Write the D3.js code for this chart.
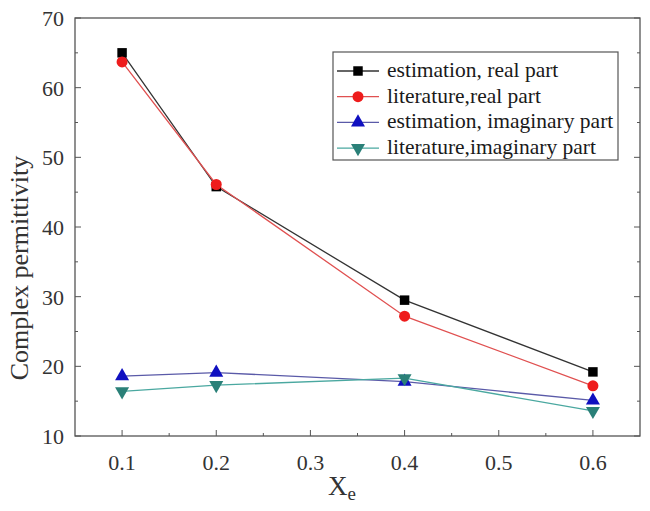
<!DOCTYPE html>
<html><head><meta charset="utf-8">
<script src="https://cdn.jsdelivr.net/npm/d3@7"></script>
<style>body{margin:0;background:#fff}svg{display:block}
text{font-family:"Liberation Serif","DejaVu Serif",Times,serif}</style>
</head><body>
<svg id="c" width="650" height="511"></svg>
<script>
const xValues = [0.1, 0.2, 0.4, 0.6];
const estReal = [65.0, 45.8, 29.5, 19.2];
const litReal = [63.7, 46.1, 27.2, 17.2];
const estImag = [18.6, 19.1, 17.8, 15.1];
const litImag = [16.4, 17.3, 18.3, 13.6];
const seriesNames = ["estimation, real part", "literature,real part", "estimation, imaginary part", "literature,imaginary part"];
const xTicks = [0.1, 0.2, 0.3, 0.4, 0.5, 0.6];
const yTicks = [10, 20, 30, 40, 50, 60, 70];

const series = [
  {name: seriesNames[0], values: estReal, line: "#333", fill: "#000", sym: d3.symbolSquare, size: 90, rot: 0},
  {name: seriesNames[1], values: litReal, line: "#e05050", fill: "#ee1c1c", sym: d3.symbolCircle, size: 95, rot: 0},
  {name: seriesNames[2], values: estImag, line: "#5a5aa8", fill: "#1010c0", sym: d3.symbolTriangle, size: 85, rot: 0},
  {name: seriesNames[3], values: litImag, line: "#4aa8a0", fill: "#2a8078", sym: d3.symbolTriangle, size: 85, rot: 180}
];

const svg = d3.select("#c");
const L = 75, R = 640, T = 18, B = 436;
const x = d3.scaleLinear().domain([0.05, 0.65]).range([L, R]);
const y = d3.scaleLinear().domain([10, 70]).range([B, T]);
const axisColor = "#555";

// frame
svg.append("rect").attr("x", L).attr("y", T).attr("width", R - L).attr("height", B - T)
  .attr("fill", "none").attr("stroke", axisColor).attr("stroke-width", 1.3);

// ticks
const xMinor = d3.range(0.15, 0.65, 0.1);
const yMinor = d3.range(15, 70, 10);
const g = svg.append("g").attr("stroke", axisColor).attr("stroke-width", 1);
xTicks.forEach(t => {
  g.append("line").attr("x1", x(t)).attr("x2", x(t)).attr("y1", B).attr("y2", B - 6);
});
xMinor.forEach(t => {
  g.append("line").attr("x1", x(t)).attr("x2", x(t)).attr("y1", B).attr("y2", B - 3);
});
yTicks.forEach(t => {
  g.append("line").attr("x1", L).attr("x2", L + 6).attr("y1", y(t)).attr("y2", y(t));
  g.append("line").attr("x1", R).attr("x2", R - 6).attr("y1", y(t)).attr("y2", y(t));
});
yMinor.forEach(t => {
  g.append("line").attr("x1", L).attr("x2", L + 3).attr("y1", y(t)).attr("y2", y(t));
  g.append("line").attr("x1", R).attr("x2", R - 3).attr("y1", y(t)).attr("y2", y(t));
});

// tick labels
svg.append("g").selectAll("text").data(xTicks).join("text")
  .attr("x", d => x(d)).attr("y", B + 34).attr("text-anchor", "middle")
  .attr("font-size", 22).attr("fill", "#333")
  .text(d => d.toFixed(1));
svg.append("g").selectAll("text").data(yTicks).join("text")
  .attr("x", L - 11).attr("y", d => y(d) + 8).attr("text-anchor", "end")
  .attr("font-size", 22).attr("fill", "#333")
  .text(d => d);

// axis titles
svg.append("text").attr("transform", `translate(28,${268}) rotate(-90)`)
  .attr("text-anchor", "middle").attr("font-size", 26).attr("fill", "#333")
  .text("Complex permittivity");
const xt = svg.append("text").attr("x", 342).attr("y", 495).attr("text-anchor", "middle")
  .attr("font-size", 27).attr("fill", "#333");
xt.append("tspan").text("X");
xt.append("tspan").attr("font-size", 19).attr("dy", 5).text("e");

// lines and markers
const line = d3.line().x(d => x(d[0])).y(d => y(d[1]));
series.forEach(s => {
  const pts = xValues.map((v, i) => [v, s.values[i]]);
  svg.append("path").datum(pts).attr("d", line).attr("fill", "none")
    .attr("stroke", s.line).attr("stroke-width", 1.3);
});
series.forEach(s => {
  const pts = xValues.map((v, i) => [v, s.values[i]]);
  svg.append("g").selectAll("path").data(pts).join("path")
    .attr("transform", d => `translate(${x(d[0])},${y(d[1])}) rotate(${s.rot})`)
    .attr("d", d3.symbol().type(s.sym).size(s.size)).attr("fill", s.fill);
});

// legend
const lg = svg.append("g");
lg.append("rect").attr("x", 333).attr("y", 52).attr("width", 285).attr("height", 108)
  .attr("fill", "#fff").attr("stroke", axisColor).attr("stroke-width", 1.2);
series.forEach((s, i) => {
  const yy = 71 + i * 25.7;
  lg.append("line").attr("x1", 337).attr("x2", 379).attr("y1", yy).attr("y2", yy)
    .attr("stroke", s.line).attr("stroke-width", 1.3);
  lg.append("path").attr("transform", `translate(358,${yy}) rotate(${s.rot})`)
    .attr("d", d3.symbol().type(s.sym).size(s.size)).attr("fill", s.fill);
  lg.append("text").attr("x", 387).attr("y", yy + 6)
    .attr("font-size", 21.5).attr("fill", "#1a1a1a").text(s.name);
});
</script>
</body></html>
